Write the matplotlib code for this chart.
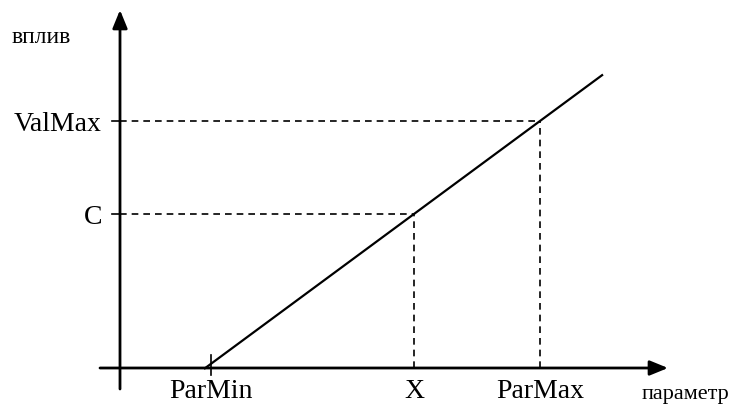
import matplotlib.pyplot as plt

# schematic values (origin at the axes crossing)
par_min = 91
x_val = 294
par_max = 420
c_val = 154
val_max = 247
line_x = [84, 483]
slope = 0.738
zero_at = 85.3

x_ticks = [par_min, x_val, par_max]
x_labels = ["ParMin", "X", "ParMax"]
y_ticks = [c_val, val_max]
y_labels = ["C", "ValMax"]

plt.rcParams['font.family'] = ['Liberation Serif', 'DejaVu Serif']

fig = plt.figure(figsize=(7.38, 4.06), dpi=100)
ax = fig.add_axes([0, 0, 1, 1])
ax.set_xlim(-120, 618)
ax.set_ylim(-37, 369)
ax.axis('off')

# axes with arrows
ax.annotate("", xy=(548, 0), xytext=(-20, 0),
            arrowprops=dict(arrowstyle="-|>,head_length=1.1,head_width=0.45",
                            color="black", lw=2, shrinkA=0, shrinkB=0))
ax.annotate("", xy=(0, 358), xytext=(0, -21),
            arrowprops=dict(arrowstyle="-|>,head_length=1.1,head_width=0.45",
                            color="black", lw=2, shrinkA=0, shrinkB=0))

# main line
ys = [slope * (x - zero_at) for x in line_x]
ax.plot(line_x, ys, color="black", lw=1.6, solid_capstyle="butt")

# ParMin tick
ax.plot([par_min, par_min], [-7, 13], color="black", lw=1.2)

# dashed guides
for xv, yv in [(x_val, c_val), (par_max, val_max)]:
    ax.plot([0, xv], [yv, yv], color="black", lw=1.2, ls=(0, (4, 3)))
    ax.plot([xv, xv], [0, yv], color="black", lw=1.2, ls=(0, (4, 3)))
    ax.plot([-8, 0], [yv, yv], color="black", lw=1.2)

for xv, lab in zip(x_ticks, x_labels):
    ax.text(xv, -29, lab, ha="center", va="baseline", fontsize=20)
for yv, lab in zip(y_ticks, y_labels):
    ax.text(-18, yv - 9, lab, ha="right", va="baseline", fontsize=20)

ax.text(-108, 326, "вплив", ha="left", va="baseline", fontsize=17)
ax.text(565, -30, "параметр", ha="center", va="baseline", fontsize=16)

fig.savefig("out.png", dpi=100)
